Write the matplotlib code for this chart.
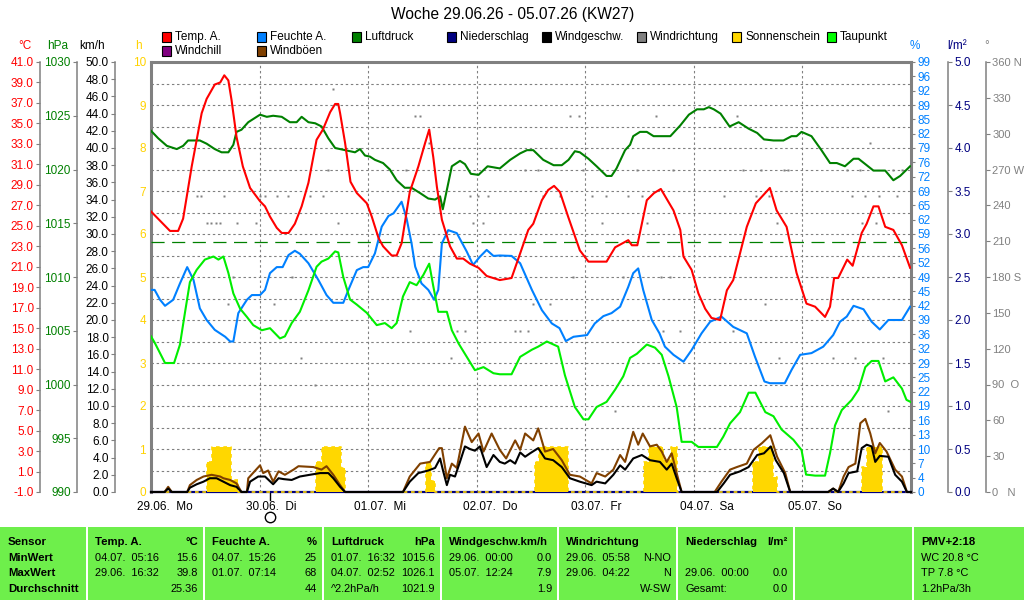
import matplotlib
matplotlib.use("Agg")
import matplotlib.pyplot as plt
import matplotlib.transforms as mtrans
from matplotlib.patches import Rectangle
import numpy as np

plt.rcParams["font.family"] = ["Liberation Sans", "DejaVu Sans"]
plt.rcParams["font.size"] = 8.5

W, H = 1024, 600

# ---------------- data (hours since 29.06. 00:00) ----------------
title = "Woche 29.06.26 - 05.07.26 (KW27)"
day_labels = ["29.06.  Mo", "30.06.  Di", "01.07.  Mi", "02.07.  Do",
              "03.07.  Fr", "04.07.  Sa", "05.07.  So"]
now_hour = 26.3

temp_h = [0.0, 4.2, 6.0, 7.1, 9.0, 11.2, 12.3, 14.1, 15.3, 16.2, 17.1, 17.8, 18.9, 20.3, 21.9,
          24.1, 25.2, 26.3, 27.8, 28.9, 30.4, 31.8, 33.3, 34.8, 36.6, 38.0, 39.6, 40.7, 41.4,
          41.8, 42.9, 44.1, 45.5, 47.7, 48.8, 50.3, 51.3, 53.2, 54.3, 55.4, 57.2, 59.1, 60.6,
          61.5, 62.4, 63.2, 64.3, 66.1, 67.6, 69.0, 70.5, 72.4, 74.2, 77.1, 79.7, 81.6, 83.4,
          84.5, 86.4, 87.8, 89.1, 90.4, 92.2, 94.8, 96.7, 100.7, 102.6, 105.5, 106.3, 107.5,
          109.6, 111.2, 112.7, 115.5, 117.0, 117.7, 119.5, 121.0, 122.5, 123.9, 125.8, 127.3,
          128.7, 131.7, 133.7, 136.8, 138.3, 140.5, 142.7, 144.9, 146.8, 149.0, 150.1, 151.0,
          151.9, 153.9, 155.1, 157.1, 158.2, 159.7, 160.8, 162.3, 164.1, 166.0, 167.8]
temp_c = [26.4, 24.5, 24.5, 25.7, 30.8, 36.0, 37.4, 38.8, 39.0, 39.7, 39.2, 37.3, 33.7, 30.8, 28.7,
          27.4, 26.9, 25.9, 24.8, 24.3, 24.3, 25.2, 26.9, 29.2, 33.4, 34.4, 36.1, 36.9, 36.9,
          36.0, 33.1, 29.3, 28.2, 27.2, 25.9, 23.8, 23.0, 22.1, 22.1, 23.3, 28.3, 30.8, 33.1,
          34.4, 31.7, 28.8, 25.6, 23.0, 21.8, 21.8, 21.3, 20.9, 20.1, 19.7, 19.9, 22.3, 24.6,
          25.2, 27.5, 28.5, 28.9, 28.3, 25.9, 22.6, 21.5, 21.5, 22.9, 23.6, 23.1, 23.1,
          27.5, 28.2, 28.6, 26.5, 24.6, 22.0, 20.7, 18.4, 16.9, 16.0, 15.8, 18.7,
          19.7, 24.9, 27.2, 28.7, 26.5, 24.9, 20.4, 17.4, 17.1, 16.1, 17.1, 19.9,
          19.9, 21.7, 21.1, 24.3, 25.2, 26.9, 26.9, 24.9, 24.6, 23.1, 20.9]

hum_h = [0.0, 0.8, 2.0, 3.1, 4.9, 6.4, 8.0, 9.4, 10.8, 12.3, 14.1, 16.4, 17.5, 18.2, 19.3, 21.2,
         22.3, 24.1, 25.2, 26.3, 27.8, 29.1, 30.4, 31.8, 32.9, 34.8, 37.0, 38.8, 40.3, 42.5,
         43.8, 45.5, 46.9, 48.0, 49.5, 51.0, 52.5, 53.6, 55.4, 56.5, 57.6, 58.4, 59.8, 61.3,
         62.6, 63.5, 64.3, 65.7, 67.6, 69.8, 71.2, 72.7, 74.2, 75.7, 77.1, 79.7, 81.6, 84.2,
         86.4, 88.6, 90.3, 91.7, 93.4, 96.4, 98.1, 100.0, 101.8, 103.7, 105.5, 106.6, 107.7,
         108.8, 110.7, 112.4, 113.6, 115.5, 117.7, 119.5, 121.7, 123.6, 126.1, 128.7, 131.7,
         133.5, 135.6, 136.8, 140.1, 141.6, 143.5, 146.0, 148.6, 150.8, 152.3, 153.8, 155.3,
         157.5, 159.3, 161.1, 163.0, 166.0, 167.8]
hum_pct = [47.0, 47.0, 44.7, 43.3, 44.7, 48.5, 52.3, 49.3, 42.7, 40.0, 37.7, 36.1, 35.0, 35.0, 41.6, 44.7,
           45.8, 45.8, 47.0, 50.9, 52.3, 52.3, 55.1, 56.1, 55.4, 53.2, 49.3, 45.8, 44.0, 44.0,
           47.4, 51.6, 52.3, 52.3, 55.5, 61.7, 64.2, 64.8, 67.5, 63.6, 57.8, 52.4, 48.5, 47.0,
           44.7, 47.0, 57.8, 60.9, 60.2, 55.9, 52.8, 54.7, 56.3, 54.9, 55.0, 54.9, 53.2, 47.0,
           42.3, 39.2, 38.1, 35.1, 36.1, 36.5, 39.2, 40.9, 41.6, 43.1, 47.7, 50.9, 52.0,
           47.0, 40.0, 36.9, 33.8, 31.9, 30.3, 33.0, 36.9, 39.6, 40.8, 38.4, 36.9,
           31.5, 25.7, 25.3, 25.3, 28.4, 31.9, 32.3, 33.8, 36.5, 39.6, 40.8, 43.3,
           42.5, 39.6, 37.8, 40.0, 40.0, 43.1]

press_h = [0.0, 1.6, 3.5, 5.7, 7.1, 8.2, 10.8, 12.3, 14.1, 15.6, 17.1, 18.2, 18.9, 20.0, 21.5,
           24.1, 25.6, 27.0, 28.9, 30.7, 32.2, 33.3, 34.8, 36.3, 37.7, 39.2, 40.7, 42.9, 45.1,
           46.2, 47.3, 48.4, 49.5, 51.3, 52.8, 54.3, 56.1, 57.6, 59.5, 61.3, 62.8, 63.9, 64.5,
           65.4, 66.5, 68.3, 69.4, 70.7, 72.4, 74.4, 77.1, 79.4, 81.6, 83.1, 84.5, 86.7, 89.0,
           90.8, 92.3, 93.7, 94.8, 96.7, 98.5, 100.7, 101.8, 102.9, 104.8, 105.9, 106.6, 108.1,
           109.6, 111.1, 114.8, 117.0, 118.9, 120.7, 122.2, 123.3, 124.4, 125.9, 127.9, 129.9,
           132.1, 134.0, 135.5, 137.6, 139.8, 141.6, 142.7, 143.8, 146.0, 148.2, 150.1, 151.6,
           153.4, 155.3, 156.4, 158.2, 159.7, 162.3, 164.1, 165.6, 167.8]
press_hpa = [1023.6, 1022.9, 1022.2, 1021.9, 1022.2, 1022.7, 1022.7, 1022.4, 1021.9, 1021.6, 1021.6,
             1022.3, 1023.5, 1023.7, 1024.4, 1025.1, 1024.9, 1025.0, 1024.9, 1024.4, 1024.4, 1024.9,
             1024.4, 1024.3, 1024.0, 1022.9, 1022.0, 1021.8, 1021.6, 1021.9, 1021.3, 1021.2, 1020.9,
             1020.6, 1020.0, 1019.0, 1018.3, 1018.3, 1017.8, 1017.3, 1017.2, 1017.5, 1016.3, 1018.1,
             1020.3, 1020.8, 1020.5, 1019.6, 1019.5, 1020.3, 1020.1, 1020.9, 1021.5, 1021.8, 1021.8,
             1020.9, 1020.4, 1020.4, 1020.9, 1021.7, 1021.6, 1021.0, 1020.3, 1019.4, 1019.4, 1020.1,
             1021.8, 1022.3, 1023.1, 1023.5, 1023.5, 1023.1, 1023.1, 1024.1, 1025.1, 1025.6, 1025.6,
             1025.8, 1025.6, 1025.2, 1024.0, 1024.4, 1023.8, 1023.4, 1022.8, 1022.7, 1022.7, 1023.1,
             1023.1, 1023.5, 1023.1, 1021.8, 1020.6, 1020.6, 1020.3, 1021.0, 1021.0, 1020.4, 1019.9,
             1019.9, 1019.0, 1019.4, 1020.3]
std_pressure = 1013.25

dew_h = [0.0, 0.8, 3.1, 5.1, 6.4, 7.5, 8.6, 10.1, 11.9, 13.8, 14.9, 16.0, 17.1, 18.2, 19.7, 21.2,
         22.6, 24.5, 26.3, 27.4, 28.5, 29.6, 31.1, 32.9, 34.8, 36.6, 37.7, 39.2, 40.7, 41.4, 42.5,
         44.0, 45.5, 47.7, 49.9, 51.7, 53.2, 54.3, 55.7, 57.2, 58.7, 60.2, 61.5, 62.4, 63.5, 65.4,
         66.5, 68.0, 69.8, 71.6, 73.5, 75.7, 77.1, 79.7, 81.6, 84.2, 85.6, 87.5, 90.0, 91.5, 93.7,
         95.6, 96.7, 98.5, 100.7, 102.6, 104.4, 105.9, 107.4, 109.6, 111.4, 112.9, 114.4, 116.2,
         117.3, 119.5, 121.0, 125.1, 126.5, 128.0, 130.2, 132.1, 133.6, 135.8, 137.6, 139.4,
         142.0, 143.8, 144.8, 146.8, 149.0, 150.1, 151.2, 152.7, 154.9, 156.4, 157.9, 159.3,
         160.8, 162.3, 164.1, 166.0, 167.0, 167.9]
dew_c = [14.2, 13.6, 11.6, 11.6, 13.4, 16.5, 19.5, 20.7, 21.7, 22.0, 21.7, 22.0, 20.4, 18.4, 16.9, 16.1,
         15.3, 14.8, 15.0, 14.5, 14.0, 14.2, 15.5, 16.6, 18.7, 21.0, 21.5, 21.8, 22.5, 22.4, 20.0,
         17.8, 17.3, 16.5, 15.3, 15.5, 15.0, 15.5, 18.1, 19.5, 19.2, 20.2, 21.3, 19.1, 16.6, 16.6,
         14.8, 13.5, 12.2, 10.9, 11.2, 10.6, 10.5, 10.5, 12.2, 12.9, 13.2, 13.7, 13.2, 10.4, 7.3,
         6.1, 6.1, 7.3, 7.8, 9.0, 10.3, 12.1, 12.5, 13.4, 13.1, 12.4, 10.3, 7.3,
         3.9, 3.9, 3.4, 3.4, 4.4, 5.7, 6.8, 8.7, 8.7, 6.8, 6.4, 5.1,
         4.1, 3.1, 0.7, 0.6, 0.6, 2.8, 5.5, 7.0, 8.0, 9.0, 11.2, 11.8,
         11.8, 9.8, 10.2, 9.1, 8.0, 7.8]

wind_h = [0.0, 3.0, 3.8, 4.6, 8.0, 8.6, 10.1, 11.6, 13.0, 14.5, 16.0, 17.5, 18.9, 20.0, 21.2, 21.9,
          23.7, 25.2, 27.0, 28.2, 29.3, 31.1, 32.9, 35.1, 37.4, 39.2, 40.3, 41.8, 42.9, 55.7, 57.2,
          59.1, 61.3, 62.8, 63.9, 64.6, 65.4, 66.1, 67.2, 68.3, 69.4, 70.5, 71.6, 72.7, 74.2, 75.7,
          77.1, 78.2, 79.4, 80.5, 81.6, 82.7, 83.8, 85.6, 87.1, 88.9, 90.8, 92.6, 94.8, 97.4, 98.5,
          100.4, 102.2, 103.7, 104.8, 106.6, 108.5, 110.3, 112.5, 114.0, 115.1, 116.2, 117.3,
          125.1, 126.6, 128.0, 130.2, 132.1, 134.0, 135.5, 137.0, 138.1, 139.9, 141.3, 149.7,
          150.8, 151.9, 153.1, 154.2, 156.1, 157.1, 158.2, 159.3, 160.1, 161.1, 163.0, 164.5,
          166.0, 167.1, 168.0]
wind_kmh = [0.0, 0.0, 0.4, 0.0, 0.0, 0.5, 0.9, 1.2, 1.6, 1.6, 1.2, 0.8, 0.6, 0.0, 0.0, 1.2,
            1.8, 1.8, 0.9, 1.6, 1.5, 1.4, 1.8, 2.0, 2.2, 2.2, 1.6, 0.6, 0.0, 0.0, 1.2,
            2.2, 2.5, 2.8, 3.9, 2.4, 0.8, 2.0, 1.8, 3.5, 5.3, 5.0, 4.8, 5.3, 2.9, 4.3,
            3.5, 3.3, 3.7, 3.3, 4.6, 4.1, 4.5, 5.1, 3.9, 3.7, 2.9, 1.6, 1.2, 0.8, 1.2,
            1.0, 2.0, 3.1, 2.6, 3.9, 4.3, 3.7, 3.5, 2.6, 3.3, 1.6, 0.0,
            0.0, 1.0, 2.0, 2.4, 2.9, 4.3, 4.5, 5.3, 3.7, 2.2, 0.0, 0.0,
            0.4, 0.0, 1.0, 2.2, 2.4, 5.1, 5.5, 5.3, 3.5, 4.2, 4.1, 2.0,
            1.2, 0.0, 0.0]

gust_h = [0.0, 3.0, 3.8, 4.6, 8.0, 8.6, 10.1, 11.6, 13.4, 15.3, 16.0, 17.5, 18.9, 20.0, 21.2, 21.5,
          24.1, 24.8, 25.9, 27.0, 28.2, 29.6, 31.5, 32.6, 35.9, 37.7, 38.8, 40.3, 41.8, 42.9, 55.7,
          57.2, 59.5, 61.7, 63.7, 64.3, 65.4, 66.5, 67.6, 69.4, 70.9, 72.4, 73.5, 75.3, 77.1, 78.5,
          80.5, 81.6, 82.7, 84.5, 85.6, 87.1, 88.9, 90.8, 92.6, 94.8, 97.4, 98.5, 100.4, 102.2,
          103.7, 104.8, 106.6, 107.7, 108.7, 110.3, 111.8, 112.9, 114.0, 115.1, 116.2, 117.3,
          124.6, 126.1, 128.0, 129.5, 131.7, 133.2, 135.1, 136.9, 138.4, 140.2, 141.3, 149.7,
          150.8, 151.9, 153.1, 154.2, 155.7, 156.8, 157.9, 159.0, 160.1, 161.1, 162.6, 164.5,
          166.0, 167.1, 168.0]
gust_kmh = [0.0, 0.0, 0.6, 0.0, 0.0, 0.8, 1.4, 1.8, 2.0, 1.8, 1.6, 1.4, 1.0, 0.0, 0.0, 1.6,
            3.1, 2.2, 2.5, 1.2, 2.4, 2.0, 2.6, 3.0, 2.9, 2.6, 3.0, 2.0, 0.8, 0.0, 0.0,
            1.8, 3.3, 3.5, 5.1, 5.1, 1.6, 3.3, 2.8, 7.6, 5.8, 6.8, 4.7, 6.8, 4.9, 3.9,
            6.0, 4.9, 6.8, 6.0, 7.4, 4.7, 5.0, 3.7, 2.0, 1.8, 1.0, 2.2, 1.8, 2.6,
            4.3, 3.5, 7.0, 5.5, 6.8, 5.3, 5.5, 4.7, 3.5, 4.5, 2.2, 0.0,
            0.0, 1.2, 2.6, 2.9, 3.3, 4.9, 5.7, 6.6, 4.1, 2.2, 0.0, 0.0,
            0.4, 0.0, 1.8, 2.9, 3.3, 8.0, 8.5, 6.8, 4.5, 5.7, 4.7, 2.6,
            1.8, 0.0, 0.0]

sun_h = [0.0, 12.3, 13.4, 17.6, 19.2, 36.5, 37.7, 41.9, 42.9, 60.8, 61.8, 62.8, 84.9, 85.8, 92.2,
         109.0, 110.1, 113.2, 114.9, 116.2, 133.1, 134.3, 137.4, 138.3, 157.2, 158.2, 161.5, 168.0]
sun_val = [0.0, 0.7, 1.05, 0.28, 0.0, 0.7, 1.05, 0.55, 0.0, 0.68, 0.26, 0.0, 0.7, 1.05, 0.0,
           0.7, 1.05, 0.74, 1.05, 0.0, 0.7, 1.05, 0.36, 0.0, 0.59, 1.05, 0.0, 0.0]

rain_h = [0.0, 168.0]
rain_mm = [0.0, 0.0]

dir_h = [10.2, 11.1, 16.1, 24.1, 25.2, 27.9, 30.3, 35.1, 38.0, 70.5, 72.3, 74.5, 86.6, 90.4, 97.5,
         100.5, 105.4, 108.5, 126.7, 133.7, 136.6, 155.0, 157.8, 160.9, 164.9,
         12.4, 13.3, 14.4, 15.3, 19.0, 23.2, 41.3, 71.2, 73.4, 99.7, 109.6, 138.3, 157.1, 160.2,
         40.2,
         39.1, 56.4, 82.7, 85.5, 95.5, 107.4, 115.4, 130.9, 134.9, 139.9, 140.8, 153.8, 156.7, 164.0, 166.0,
         58.4, 59.5, 92.6, 94.6, 111.6, 129.5,
         61.5, 158.9,
         18.1, 31.2, 93.3, 104.3, 112.7, 114.7,
         17.0, 27.2, 84.4, 88.2, 135.7,
         57.3, 67.6, 69.4, 80.5, 81.6, 83.3, 113.2, 116.9, 128.6,
         33.2, 66.3, 138.8, 150.8, 155.7, 161.8,
         36.3,
         102.6, 162.9]
dir_deg = [247.5] * 25 + [225.0] * 14 + [337.5] + [270.0] * 15 + [315.0] * 6 + [292.5] * 2 + \
          [180.0] * 6 + [157.5] * 5 + [135.0] * 9 + [112.5] * 6 + [90.0] + [67.5] * 2

temp_ticks = np.arange(-1, 41.1, 2)
press_ticks = np.arange(990, 1031, 5)
wind_ticks = np.arange(0, 50.1, 2)
hum_labels = ["0", "4", "7", "10", "13", "16", "19", "22", "25", "29", "32", "36", "39", "42", "45",
              "49", "52", "56", "59", "62", "65", "69", "72", "76", "79", "82", "85", "89", "92",
              "96", "99"]
rain_ticks = np.arange(0, 5.01, 0.5)
dir_labels = ["0   N", "30", "60", "90  O", "120", "150", "180 S", "210", "240", "270 W",
              "300", "330", "360 N"]

legend_row1 = [("Temp. A.", "#FF0000"), ("Feuchte A.", "#0080FF"), ("Luftdruck", "#008000"),
               ("Niederschlag", "#000080"), ("Windgeschw.", "#000000"), ("Windrichtung", "#808080"),
               ("Sonnenschein", "#FFD700"), ("Taupunkt", "#00FF00")]
legend_row2 = [("Windchill", "#800080"), ("Windböen", "#804000")]

sensor_col = ["Sensor", "MinWert", "MaxWert", "Durchschnitt"]
stat_cols = [
    ("Temp. A.", "°C", [("04.07.  05:16", "15.6"), ("29.06.  16:32", "39.8"), ("", "25.36")]),
    ("Feuchte A.", "%", [("04.07.  15:26", "25"), ("01.07.  07:14", "68"), ("", "44")]),
    ("Luftdruck", "hPa", [("01.07.  16:32", "1015.6"), ("04.07.  02:52", "1026.1"),
                          ("^2.2hPa/h", "1021.9")]),
    ("Windgeschw.km/h", "", [("29.06.  00:00", "0.0"), ("05.07.  12:24", "7.9"), ("", "1.9")]),
    ("Windrichtung", "", [("29.06.  05:58", "N-NO"), ("29.06.  04:22", "N"), ("", "W-SW")]),
    ("Niederschlag", "l/m²", [("", ""), ("29.06.  00:00", "0.0"), ("Gesamt:", "0.0")]),
    ("", "", [("", ""), ("", ""), ("", "")]),
]
pmv_col = ["PMV+2:18", "WC 20.8 °C", "TP 7.8 °C", "1.2hPa/3h"]

# ---------------- layout ----------------
GRAY = "#808080"
RED = "#FF0000"
BLUE = "#0080FF"
DGREEN = "#008000"
LIME = "#00EE00"
BROWN = "#804000"
NAVY = "#000080"
SUN = "#FFD700"
SUN_TXT = "#FFD200"
TABLE_GREEN = "#6EEF4B"


def fx(px):
    return px / W


def fy(py):
    return 1 - py / H


fig = plt.figure(figsize=(W / 100, H / 100), dpi=100)
fig.patch.set_facecolor("white")

ax = fig.add_axes([fx(151), fy(492), 760 / W, 430 / H])
ax.set_xlim(0, 168)
ax.set_ylim(0, 10)
ax.set_xticks(np.arange(0, 169, 24))
ax.set_xticklabels([])
ax.tick_params(axis="x", length=0)
ax.set_yticks(np.arange(0, 11, 1))
ax.set_yticks(np.arange(0.5, 10, 1), minor=True)
ax.tick_params(axis="y", which="both", length=0, pad=3.5, labelcolor=SUN_TXT)
ax.set_yticklabels([str(v) for v in range(11)])
ax.grid(True, which="both", color=GRAY, lw=0.8, ls=(0, (2.2, 2.4)))
for s in ("left", "top", "right"):
    ax.spines[s].set_color(GRAY)
    ax.spines[s].set_linewidth(2.2)
ax.spines["bottom"].set_visible(False)


def scale_axis(lo, hi, side=None, pos=None, ticks=None, labels=None, color="black", size=8.5):
    t = ax.twinx()
    t.set_xlim(0, 168)
    t.set_ylim(lo, hi)
    for sp in t.spines.values():
        sp.set_visible(False)
    if side is None:
        t.set_yticks([])
        return t
    t.yaxis.set_ticks_position(side)
    if pos is not None:
        sp = t.spines[side]
        sp.set_visible(True)
        sp.set_position(("axes", pos))
        sp.set_color(GRAY)
        sp.set_linewidth(1.1)
    t.set_yticks(ticks)
    t.set_yticklabels(labels)
    t.tick_params(axis="y", direction="out", length=3, width=0.8, color=GRAY,
                  labelcolor=color, pad=1.5, labelsize=size)
    return t


ax_rain = scale_axis(0, 5, "right", 1.0487, rain_ticks, ["%.1f" % v for v in rain_ticks], NAVY)
ax_rain.plot(rain_h, rain_mm, color=NAVY, lw=1.6, clip_on=False)

ax_sun = scale_axis(0, 10)
ax_sun.fill_between(sun_h, sun_val, step="post", color=SUN, lw=0)
ax_sun.step(sun_h, sun_val, where="post", color=SUN, lw=1.2, ls=(0, (2.2, 2.2)), clip_on=False)

ax_dir = scale_axis(0, 360, "right", 1.0987, np.arange(0, 361, 30), dir_labels, GRAY, size=8)
ax_dir.plot(dir_h, dir_deg, ls="none", marker="s", ms=1.6, color=GRAY, mec="none")

ax_p = scale_axis(990, 1030, "left", -0.0974, press_ticks, ["%d" % v for v in press_ticks], DGREEN)
ax_p.axhline(std_pressure, color=DGREEN, lw=0.9, ls=(0, (10.5, 6)))
ax_p.plot(press_h, press_hpa, color=DGREEN, lw=1.5)

ax_h = scale_axis(0, 100, "right", None, np.linspace(0, 100, 31), hum_labels, BLUE)
ax_h.plot(hum_h, hum_pct, color=BLUE, lw=1.5)

ax_t = scale_axis(-1, 41, "left", -0.1461, temp_ticks, ["%.1f" % v for v in temp_ticks], RED)
ax_t.plot(dew_h, dew_c, color=LIME, lw=1.5)
ax_t.plot(temp_h, temp_c, color=RED, lw=1.5)

ax_w = scale_axis(0, 50, "left", -0.0474, wind_ticks, ["%.1f" % v for v in wind_ticks], "black")
ax_w.plot(gust_h, gust_kmh, color=BROWN, lw=1.5, clip_on=False)
ax_w.plot(wind_h, wind_kmh, color="black", lw=1.5, clip_on=False)

# day labels and current-time marker
xt = ax.get_xaxis_transform()
lab_tr = mtrans.offset_copy(xt, fig=fig, x=-14, y=-15, units="dots")
for i, lab in enumerate(day_labels):
    ax.text(i * 24, 0, lab, transform=lab_tr, ha="left", va="center", fontsize=8.5)
ax.plot([now_hour, now_hour], [0, -0.019], transform=xt, color="black", lw=1, clip_on=False)
ax.plot([now_hour], [0], transform=mtrans.offset_copy(xt, fig=fig, y=-25, units="dots"),
        marker="o", ms=7.5, mfc="white", mec="black", mew=1, clip_on=False)

# title, unit headers
fig.text(fx(513), fy(15), title, ha="center", va="center", fontsize=11.2)
for txt, px, col in [("°C", 25, RED), ("hPa", 58, DGREEN), ("km/h", 92, "black"),
                     ("h", 138, SUN_TXT), ("%", 915, BLUE), ("l/m²", 957, NAVY), ("°", 987, GRAY)]:
    fig.text(fx(px), fy(46), txt, ha="center", va="center", color=col, fontsize=8.5)

# legend
for row, items in ((37, legend_row1), (51, legend_row2)):
    for i, (name, col) in enumerate(items):
        x0 = 162 + 95 * i
        fig.patches.append(Rectangle((fx(x0), fy(row + 4.5)), 9 / W, 9 / H,
                                     transform=fig.transFigure, facecolor=col,
                                     edgecolor="black", lw=0.8))
        fig.text(fx(x0 + 13), fy(row), name, ha="left", va="center", fontsize=8.5)

# statistics table
col_edges = [0, 87, 204, 323, 441, 558, 677, 794, 913, 1024]
row_y = [542, 558, 573, 589]
for i in range(len(col_edges) - 1):
    x0 = col_edges[i] + (1 if i > 0 else 0)
    x1 = col_edges[i + 1] - (1 if i < len(col_edges) - 2 else 0)
    fig.patches.append(Rectangle((fx(x0), fy(600)), (x1 - x0) / W, 73 / H,
                                 transform=fig.transFigure, facecolor=TABLE_GREEN, lw=0))

for j, txt in enumerate(sensor_col):
    fig.text(fx(8), fy(row_y[j]), txt, ha="left", va="center", fontweight="bold", fontsize=8.2)

for i, (head, unit, rows) in enumerate(stat_cols):
    left = col_edges[i + 1] + 8
    right = col_edges[i + 2] - 6
    fig.text(fx(left), fy(row_y[0]), head, ha="left", va="center", fontweight="bold", fontsize=8.2)
    fig.text(fx(right), fy(row_y[0]), unit, ha="right", va="center", fontweight="bold", fontsize=8.2)
    for j, (lt, rt) in enumerate(rows):
        fig.text(fx(left), fy(row_y[j + 1]), lt, ha="left", va="center", fontsize=7.9)
        fig.text(fx(right), fy(row_y[j + 1]), rt, ha="right", va="center", fontsize=7.9)

for j, txt in enumerate(pmv_col):
    fig.text(fx(921), fy(row_y[j]), txt, ha="left", va="center",
             fontweight="bold" if j == 0 else "normal", fontsize=8.2 if j == 0 else 7.9)

fig.savefig("out.png", dpi=100)
